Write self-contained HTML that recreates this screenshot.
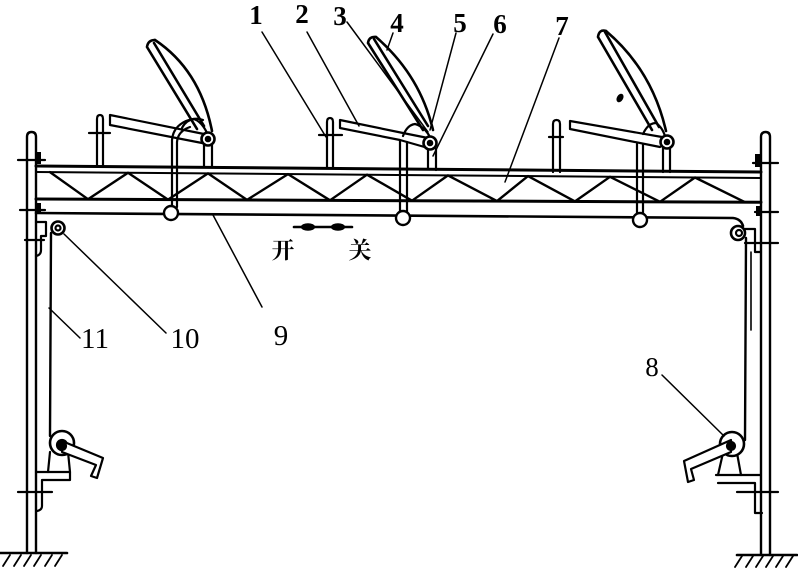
<!DOCTYPE html>
<html><head><meta charset="utf-8">
<style>
html,body{margin:0;padding:0;background:#fff;}
svg{display:block;}
</style></head>
<body>
<svg width="798" height="571" viewBox="0 0 798 571" xmlns="http://www.w3.org/2000/svg">
<rect width="798" height="571" fill="#fff"/>
<g fill="none" stroke="#000" stroke-width="2.2" stroke-linecap="round" stroke-linejoin="round">

<!-- posts -->
<path d="M27 553 V137 Q27 132 31.5 132 Q36 132 36 137 V553" stroke-width="2.4"/>
<path d="M761 555 V137 Q761 132 765.5 132 Q770 132 770 137 V555" stroke-width="2.4"/>

<!-- post fasteners -->
<line x1="18" y1="160" x2="45" y2="160"/>
<line x1="20" y1="210" x2="45" y2="210"/>
<line x1="25" y1="240" x2="44" y2="240"/>
<line x1="18" y1="492" x2="52" y2="492"/>
<line x1="753" y1="163" x2="778" y2="163"/>
<line x1="755" y1="212" x2="778" y2="212"/>
<line x1="745" y1="243" x2="778" y2="243"/>
<line x1="737" y1="492" x2="778" y2="492"/>
<g fill="#000" stroke="none">
<rect x="35" y="152" width="6" height="12"/>
<rect x="35" y="203" width="6" height="10"/>
<rect x="755" y="154" width="6" height="13"/>
<rect x="756" y="206" width="5" height="10"/>
</g>

<!-- truss -->
<line x1="36" y1="166" x2="761" y2="172" stroke-width="3"/>
<line x1="36" y1="172" x2="761" y2="178" stroke-width="2"/>
<line x1="36" y1="199" x2="761" y2="202.3" stroke-width="3"/>
<polyline points="50,172.1 88,199.2 128,172.8 168,199.6 208,173.4 247,199.9 288,174.1 330,200.3 367,174.7 412,200.7 448,175.4 497,201.1 528,176.1 575,201.4 610,176.8 660,201.8 695,177.5 745,202.2" stroke-width="2.4"/>

<!-- rod 9 -->
<path d="M36 213 L733 218 Q741 219 743 226" stroke-width="2.6"/>

<!-- left bracket + pulley 10 -->
<path d="M36 222 L46 222 L46 236 L41 236 L41 250 Q41 255 36 256"/>
<circle cx="58" cy="228" r="6.5" fill="#fff" stroke-width="2.6"/>
<circle cx="58" cy="228" r="2.5"/>
<!-- right bracket + pulley -->
<path d="M740 229 L755 229 L755 252 L761 252"/>
<circle cx="738" cy="233" r="7" fill="#fff" stroke-width="2.6"/>
<circle cx="739" cy="233" r="3"/>

<!-- cables -->
<line x1="51" y1="233" x2="50" y2="436" stroke-width="2.4"/>
<line x1="746" y1="238" x2="745" y2="440" stroke-width="2.4"/>
<line x1="751" y1="252" x2="751" y2="330" stroke-width="1.6"/>

<!-- left winch -->
<path d="M50 452 L48 472 M68 452 L70 472"/>
<path d="M36 472 L70 472 L70 480 L42 480 L42 506 Q42 510 37 511"/>
<circle cx="62" cy="443" r="12" fill="#fff" stroke-width="2.6"/>
<circle cx="62" cy="445" r="5" fill="#000"/>
<polygon points="62,441 103,458 97,478 91,476 96,465 62,452" fill="#fff"/>
<circle cx="62" cy="446" r="4" fill="#000"/>

<!-- right winch -->
<path d="M723 453 L718 475 M737 453 L741 475"/>
<path d="M716 475 L760 475 M718 483 L755 483 L755 513 L762 513"/>
<circle cx="732" cy="444" r="12" fill="#fff" stroke-width="2.6"/>
<polygon points="731,440 684,461 688,482 694,480 691,469 731,452" fill="#fff"/>
<circle cx="731" cy="446" r="4" fill="#000"/>

<!-- ground -->
<line x1="0" y1="553" x2="67" y2="553" stroke-width="2.6"/>
<path d="M3 566 L10 555 M14 566 L21 555 M24 566 L31 555 M34 566 L41 555 M45 566 L52 555 M55 566 L62 555" stroke-width="1.8"/>
<line x1="737" y1="555" x2="797" y2="555" stroke-width="2.6"/>
<path d="M735 567 L742 556 M746 567 L753 556 M756 567 L763 556 M766 567 L773 556 M776 567 L783 556 M786 567 L793 556" stroke-width="1.8"/>

<!-- ===== unit 1 ===== -->
<path d="M97 166 V119 Q97 115 100 115 Q103 115 103 119 V166"/>
<line x1="89" y1="133" x2="110" y2="133"/>
<path d="M110 115 L110 125 M110 115 L204 134 M110 125 L202 143"/>
<path d="M204 145 V166 M212 145 V166"/>
<path d="M172 207 V140 Q173 127 186 121 Q196 117 203 120 M177 207 V142 Q178 131 190 127"/>
<path d="M182 128 Q186 120 194 119 Q202 122 207 133"/>
<path d="M147 47 L197 129 M154 43 L204 126 M147 47 Q148 40 155 40" stroke-width="2.6"/>
<path d="M155 40 Q200 70 212 131" stroke-width="2.6"/>
<circle cx="208" cy="139" r="6.5" fill="#fff" stroke-width="2.6"/>
<circle cx="208" cy="139" r="2.2" fill="#000"/>
<circle cx="171" cy="213" r="7" fill="#fff" stroke-width="2.4"/>

<!-- ===== unit 2 ===== -->
<path d="M327 168 V122 Q327 118 330 118 Q333 118 333 122 V168"/>
<line x1="319" y1="135" x2="342" y2="135"/>
<path d="M340 120 L340 128 M340 120 L403 133 L428 138 M340 128 L400 140 L428 148"/>
<path d="M428 149 V169 M436 149 V170"/>
<path d="M400 212 V141 M407 212 V142"/>
<path d="M403 136 Q407 125 415 124 Q424 126 430 137"/>
<path d="M368 43 L423 130 M374 39 L428 126 M368 43 Q369 36 376 37" stroke-width="2.6"/>
<path d="M376 37 Q420 75 433 130" stroke-width="2.6"/>
<circle cx="430" cy="143" r="6.5" fill="#fff" stroke-width="2.6"/>
<circle cx="430" cy="143" r="2.2" fill="#000"/>
<circle cx="403" cy="218" r="7" fill="#fff" stroke-width="2.4"/>

<!-- ===== unit 3 ===== -->
<path d="M553 172 V124 Q553 120 556.5 120 Q560 120 560 124 V172"/>
<line x1="549" y1="137" x2="563" y2="137"/>
<path d="M570 121 L570 129 M570 121 L662 137 M570 129 L660 147"/>
<path d="M663 148 V172 M670 148 V172"/>
<path d="M637 213 V144 M643 213 V144"/>
<path d="M643 134 Q648 123 656 123 Q662 127 665 136"/>
<path d="M598 37 L652 130 M605 32 L659 127 M598 37 Q599 29 606 31" stroke-width="2.6"/>
<path d="M606 31 Q652 70 666 131" stroke-width="2.6"/>
<circle cx="667" cy="142" r="6.5" fill="#fff" stroke-width="2.6"/>
<circle cx="667" cy="142" r="2.2" fill="#000"/>
<circle cx="640" cy="220" r="7" fill="#fff" stroke-width="2.4"/>
<ellipse cx="620" cy="98" rx="2" ry="3.5" transform="rotate(30 620 98)" fill="#000"/>

<!-- open/close arrow -->
<line x1="294" y1="227" x2="352" y2="227" stroke-width="2.6"/>
<ellipse cx="308" cy="227" rx="6" ry="2.6" fill="#000"/>
<ellipse cx="338" cy="227" rx="6" ry="2.6" fill="#000"/>

<!-- leaders -->
<g stroke-width="1.5">
<line x1="262" y1="32" x2="326" y2="137"/>
<line x1="307" y1="32" x2="359" y2="126"/>
<line x1="347" y1="22" x2="428" y2="132"/>
<line x1="393" y1="33" x2="387" y2="50"/>
<line x1="456" y1="33" x2="430" y2="130"/>
<line x1="493" y1="34" x2="433" y2="156"/>
<line x1="559" y1="38" x2="505" y2="182"/>
<line x1="662" y1="375" x2="724" y2="436"/>
<line x1="213" y1="215" x2="262" y2="307"/>
<line x1="64" y1="234" x2="166" y2="333"/>
<line x1="49" y1="308" x2="80" y2="338"/>
</g>
</g>

<!-- labels -->
<g font-family="Liberation Serif, serif" fill="#000" text-anchor="middle">
<g font-size="27" font-weight="bold">
<text x="256" y="24">1</text>
<text x="302" y="23">2</text>
<text x="340" y="25">3</text>
<text x="397" y="32">4</text>
<text x="460" y="32">5</text>
<text x="500" y="33">6</text>
<text x="562" y="35">7</text>
</g>
<g font-size="29">
<text x="95" y="348">11</text>
<text x="185" y="348">10</text>
<text x="281" y="345">9</text>
<text x="652" y="376" font-size="27">8</text>
</g>
<g font-family="Liberation Serif, Noto Serif CJK SC, serif" font-size="23" font-weight="bold">
<text x="283" y="258">开</text>
<text x="360" y="258">关</text>
</g>
</g>
</svg>
</body></html>
